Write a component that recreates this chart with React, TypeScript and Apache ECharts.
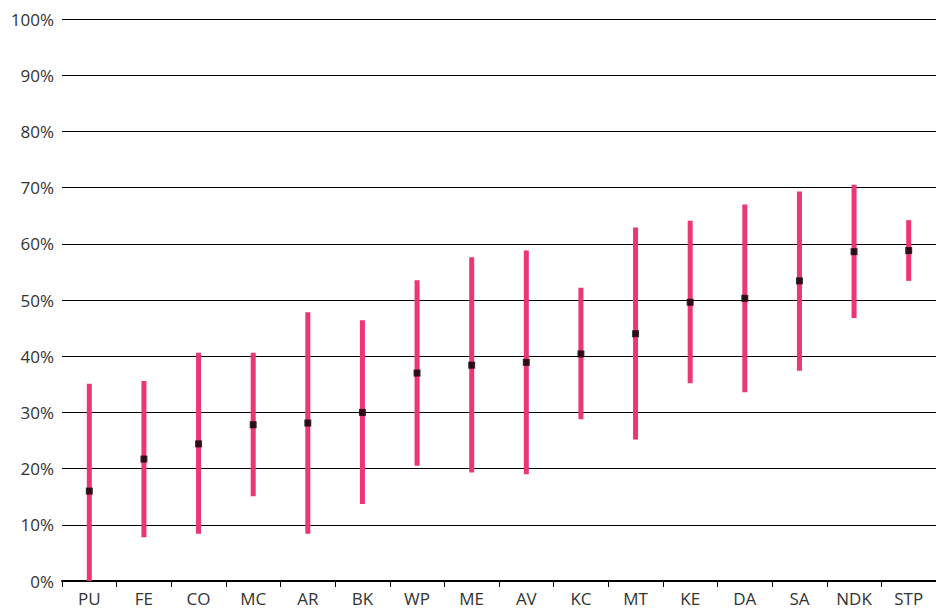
import React, { useEffect, useRef } from "react";
import * as echarts from "echarts";

const categories = ["PU", "FE", "CO", "MC", "AR", "BK", "WP", "ME", "AV", "KC", "MT", "KE", "DA", "SA", "NDK", "STP"];
const lowValues = [0, 7.8, 8.4, 15.1, 8.4, 13.7, 20.5, 19.3, 19.0, 28.8, 25.2, 35.2, 33.6, 37.4, 46.8, 53.4];
const highValues = [35.1, 35.6, 40.6, 40.6, 47.8, 46.4, 53.5, 57.6, 58.8, 52.2, 62.9, 64.1, 67.0, 69.3, 70.5, 64.2];
const midValues = [16.0, 21.7, 24.4, 27.8, 28.1, 30.0, 37.0, 38.4, 38.9, 40.4, 44.0, 49.6, 50.3, 53.4, 58.6, 58.8];

export default function App() {
  const ref = useRef<HTMLDivElement>(null);
  useEffect(() => {
    if (!ref.current) return;
    const chart = echarts.init(ref.current, undefined, { renderer: "svg" });
    const rangeData = categories.map((c, i) => [i, lowValues[i], highValues[i]]);
    chart.setOption({
      animation: false,
      backgroundColor: "#fff",
      grid: { left: 62, top: 19, width: 880, height: 562, containLabel: false },
      xAxis: {
        type: "category",
        data: categories,
        boundaryGap: true,
        axisLine: { show: true, lineStyle: { color: "#000", width: 2 } },
        axisTick: { show: true, length: 6, lineStyle: { color: "#000", width: 1 } },
        axisLabel: { color: "#333", fontSize: 17, fontFamily: "Open Sans", margin: 9 },
        splitLine: { show: false },
      },
      yAxis: {
        type: "value",
        min: 0,
        max: 100,
        interval: 10,
        axisLine: { show: false },
        axisTick: { show: false },
        axisLabel: { formatter: "{value}%", color: "#333", fontSize: 17, fontFamily: "Open Sans", margin: 8 },
        splitLine: { show: true, lineStyle: { color: "#000", width: 1 } },
      },
      series: [
        {
          type: "custom",
          data: rangeData,
          encode: { x: 0, y: [1, 2] },
          z: 2,
          renderItem: (params: any, api: any) => {
            const x = api.value(0);
            const p1 = api.coord([x, api.value(1)]);
            const p2 = api.coord([x, api.value(2)]);
            const w = 5;
            return {
              type: "rect",
              shape: { x: p1[0] - w / 2, y: p2[1], width: w, height: p1[1] - p2[1] },
              style: { fill: "#ee3575" },
            };
          },
        },
        {
          type: "scatter",
          data: midValues,
          symbol: "rect",
          symbolSize: 7,
          itemStyle: { color: "#000" },
          z: 3,
        },
      ],
    });
    return () => chart.dispose();
  }, []);
  return <div ref={ref} style={{ position: "absolute", left: 0, top: 0, width: 936, height: 609 }} />;
}
